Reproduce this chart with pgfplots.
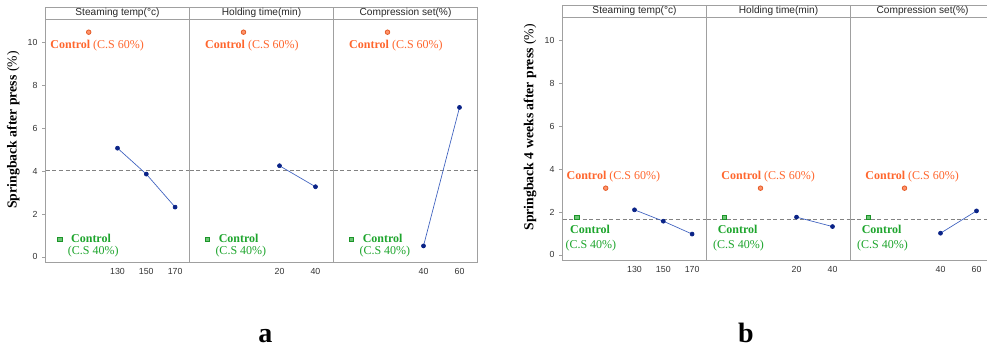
\documentclass[border=0pt]{standalone}
\usepackage{fontspec}
\setmainfont{Liberation Serif}
\setsansfont{Liberation Sans}
\usepackage{pgfplots}
\pgfplotsset{compat=1.18}
\definecolor{orng}{RGB}{255,102,45}
\definecolor{grn}{RGB}{30,165,45}
\definecolor{frame}{RGB}{160,160,160}
\definecolor{lblue}{RGB}{60,95,190}
\definecolor{navy}{RGB}{10,35,135}
\definecolor{tickc}{RGB}{50,50,50}
\definecolor{dashc}{RGB}{130,130,130}
\tikzset{lab/.style={anchor=west, inner sep=0pt, font=\fontsize{9}{10}\selectfont}}
\pgfplotsset{
  panel/.style={scale only axis, width=108pt, height=182pt,
    ymin=-0.24, ymax=11.08, clip=false, anchor=south west,
    axis line style={draw=frame, line width=0.6pt},
    tick label style={font=\sffamily\fontsize{6.6}{7}\selectfont, text=tickc},
    xticklabel style={yshift=1.5pt},
    /pgf/number format/assume math mode=true,
    xtick style={draw=none}, ytick style={draw=frame, line width=0.5pt},
    tick align=outside, major tick length=2.5pt,
    ytick pos=left, xtick pos=bottom,
    minor tick num=0},
  first/.style={ytick={0,2,4,6,8,10}},
  other/.style={ytick=\empty},
  ser/.style={lblue, line width=0.5pt, mark=*, mark size=1.5pt, mark options={draw=navy, fill=navy}},
}
\newcommand\hdr[1]{%
  \draw[frame, line width=0.6pt] (rel axis cs:0,1) rectangle ([yshift=9pt]rel axis cs:1,1);
  \node[font=\sffamily\fontsize{7.6}{8}\selectfont, text=black!85] at ([yshift=4.6pt]rel axis cs:0.5,1) {#1};}
\newcommand\ctrlmarks[4]{% orange x, orange y, green x, green y
  \addplot[only marks, mark=*, mark size=1.7pt, mark options={draw=orng!90!black, fill=orng!70, line width=0.6pt}] coordinates {(#1,#2)};
  \addplot[only marks, mark=square*, mark size=1.6pt, mark options={draw=grn!90!black, fill=grn!65, line width=0.6pt}] coordinates {(#3,#4)};}
\newcommand\labA[2]{%
  \node[lab, text=orng] at ([xshift=-28.9pt,yshift=-10.3pt]axis cs:#1,10.48) {\textbf{Control} (C.S 60\%)};
  \node[lab, text=grn] at ([xshift=8.25pt,yshift=0.75pt]axis cs:#2,0.83) {\textbf{Control}};
  \node[lab, text=grn] at ([xshift=5.8pt,yshift=-9.5pt]axis cs:#2,0.83) {(C.S 40\%)};}
\newcommand\labB[2]{%
  \node[lab, text=orng] at ([xshift=-29.5pt,yshift=8.7pt]axis cs:#1,3.11) {\textbf{Control} (C.S 60\%)};
  \node[lab, text=grn] at ([xshift=-5.25pt,yshift=-8.5pt]axis cs:#2,1.73) {\textbf{Control}};
  \node[lab, text=grn] at ([xshift=-8.7pt,yshift=-20.8pt]axis cs:#2,1.73) {(C.S 40\%)};}
\begin{document}
\begin{tikzpicture}
\useasboundingbox (0,0) rectangle (740.25pt,261pt);
\clip (0,0) rectangle (740.25pt,261pt);
% ---------------- panel a ----------------
\begin{axis}[panel, first, at={(34.125pt,64.5pt)}, xmin=80, xmax=180, xtick={130,150,170}]
\hdr{Steaming temp(°c)}
\addplot[dashc, line width=0.5pt, dash pattern=on 3pt off 2pt] coordinates {(80,4.03) (180,4.03)};
\addplot[ser] coordinates {(130,5.07) (150,3.86) (170,2.32)};
\ctrlmarks{110}{10.48}{90}{0.83}
\labA{110}{90}
\end{axis}
\begin{axis}[panel, other, at={(142.125pt,64.5pt)}, xmin=-30, xmax=50, xtick={20,40}]
\hdr{Holding time(min)}
\addplot[dashc, line width=0.5pt, dash pattern=on 3pt off 2pt] coordinates {(-30,4.03) (50,4.03)};
\addplot[ser] coordinates {(20,4.25) (40,3.27)};
\ctrlmarks{0}{10.48}{-20}{0.83}
\labA{0}{-20}
\end{axis}
\begin{axis}[panel, other, at={(250.125pt,64.5pt)}, xmin=-10, xmax=70, xtick={40,60}]
\hdr{Compression set(\%)}
\addplot[dashc, line width=0.5pt, dash pattern=on 3pt off 2pt] coordinates {(-10,4.03) (70,4.03)};
\addplot[ser] coordinates {(40,0.51) (60,6.97)};
\ctrlmarks{20}{10.48}{0}{0.83}
\labA{20}{0}
\end{axis}
% ---------------- panel b ----------------
\begin{axis}[panel, first, at={(421.875pt,66pt)}, xmin=80, xmax=180, xtick={130,150,170}]
\hdr{Steaming temp(°c)}
\addplot[dashc, line width=0.5pt, dash pattern=on 3pt off 2pt] coordinates {(80,1.67) (180,1.67)};
\addplot[ser] coordinates {(130,2.10) (150,1.57) (170,0.97)};
\ctrlmarks{110}{3.11}{90}{1.73}
\labB{110}{90}
\end{axis}
\begin{axis}[panel, other, at={(529.875pt,66pt)}, xmin=-30, xmax=50, xtick={20,40}]
\hdr{Holding time(min)}
\addplot[dashc, line width=0.5pt, dash pattern=on 3pt off 2pt] coordinates {(-30,1.67) (50,1.67)};
\addplot[ser] coordinates {(20,1.76) (40,1.32)};
\ctrlmarks{0}{3.11}{-20}{1.73}
\labB{0}{-20}
\end{axis}
\begin{axis}[panel, other, at={(637.875pt,66pt)}, xmin=-10, xmax=70, xtick={40,60}]
\hdr{Compression set(\%)}
\addplot[dashc, line width=0.5pt, dash pattern=on 3pt off 2pt] coordinates {(-10,1.67) (70,1.67)};
\addplot[ser] coordinates {(40,1.01) (60,2.05)};
\ctrlmarks{20}{3.11}{0}{1.73}
\labB{20}{0}
\end{axis}
% ---------------- labels ----------------
\node[rotate=90, font=\fontsize{10.3}{11}\selectfont] at (10pt,163.5pt) {\textbf{Springback after press} (\%)};
\node[rotate=90, font=\fontsize{10.3}{11}\selectfont] at (397.5pt,165.5pt) {\textbf{Springback 4 weeks after press} (\%)};
\node[anchor=base, font=\bfseries\fontsize{21}{22}\selectfont] at (199.1pt,3.75pt) {a};
\node[anchor=base, font=\bfseries\fontsize{21}{22}\selectfont] at (559.5pt,3.75pt) {b};
\end{tikzpicture}
\end{document}
